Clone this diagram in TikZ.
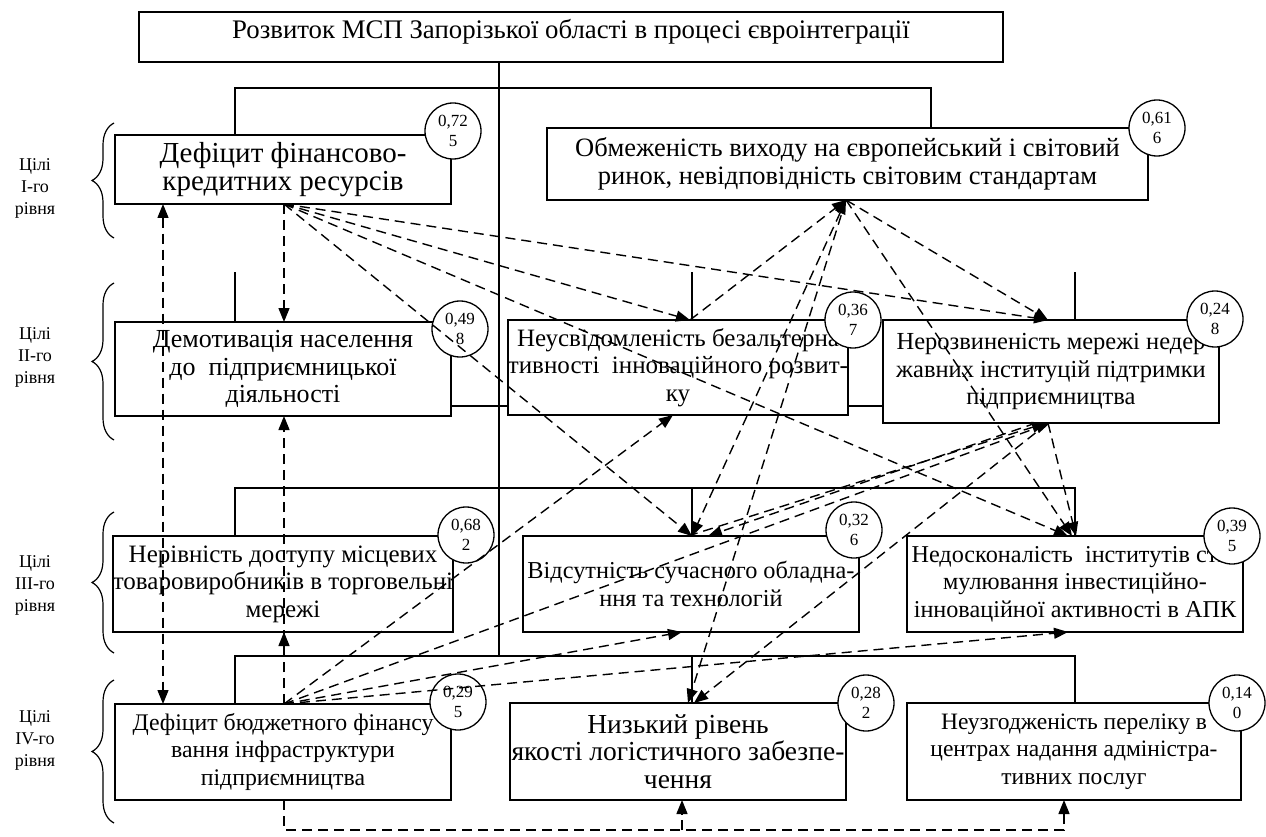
\documentclass[tikz,border=0pt]{standalone}
\usepackage{fontspec}
\setmainfont{Liberation Serif}
\usetikzlibrary{arrows.meta,decorations.pathreplacing,calc}
\newcommand{\fs}[1]{\fontsize{#1}{27.5}\selectfont}
\begin{document}
\begin{tikzpicture}[x=1pt,y=-1pt,
  box/.style={draw, line width=1.3pt, fill=white, align=center, inner sep=0pt, outer sep=0pt, font=\fs{25}},
  frame/.style={draw, line width=1.3pt, fill=white, inner sep=0pt, outer sep=0pt},
  val/.style={draw, circle, line width=1.3pt, fill=white, minimum size=56pt, inner sep=0pt, outer sep=0pt, align=center, font=\fontsize{17}{20}\selectfont},
  lvl/.style={align=center, font=\fontsize{18}{22}\selectfont},
  bus/.style={line width=1.2pt},
  dep/.style={line width=1.4pt, dash pattern=on 10pt off 6pt, -{Triangle[length=14pt,width=11pt]}},
  depb/.style={line width=1.4pt, dash pattern=on 10pt off 6pt, {Triangle[length=14pt,width=11pt]}-{Triangle[length=14pt,width=11pt]}},
  lbrace/.style={decorate, decoration={brace, amplitude=22pt}, line width=1.2pt}]
\useasboundingbox (0,0) rectangle (1266,837);

% helper x positions
\coordinate (xL) at (163,0);
\coordinate (xA) at (284,0);
\coordinate (xC) at (499,0);
\coordinate (xM) at (692,0);
\coordinate (xP) at (846,0);
\coordinate (xR) at (1075,0);
\coordinate (yc) at (0,406);

% title
\node[frame, minimum width=864pt, minimum height=50pt] (title) at (571,37) {};
\node[font=\fs{26.8}, inner sep=0pt] (titletext) at (571,32) {Розвиток МСП Запорізької області в процесі євроінтеграції};

% level I
\node[box, font=\fs{29}, minimum width=336pt, minimum height=69pt] (b1) at (283,169.5) {Дефіцит фінансово-\\кредитних ресурсів};
\node[box, font=\fs{26.5}, minimum width=601pt, minimum height=72pt] (b2) at (847.5,164) {Обмеженість виходу на європейський і світовий\\ринок, невідповідність світовим стандартам};
% level II
\node[box, font=\fs{26}, minimum width=336pt, minimum height=94pt] (b3) at (283,369) {Демотивація населення\\до\ \ підприємницької\\діяльності};
\node[box, font=\fs{25}, minimum width=336pt, minimum height=95pt] (b4) at (678,367.5) {Неусвідомленість безальтерна\\тивності\ \ інноваційного розвит-\\ку};
\node[box, font=\fs{24.5}, minimum width=336pt, minimum height=103pt] (b5) at (1051,371.5) {Нерозвиненість мережі недер\\жавних інституцій підтримки\\підприємництва};
% level III
\node[box, font=\fs{25}, minimum width=336pt, minimum height=96pt] (b6) at (283,584) {Нерівність доступу місцевих\\товаровиробників в торговельні\\мережі};
\node[box, font=\fs{24.3}, minimum width=336pt, minimum height=96pt] (b7) at (691,584) {Відсутність сучасного обладна-\\ння та технологій};
\node[box, font=\fs{24.2}, minimum width=336pt, minimum height=96pt] (b8) at (1075,584) {Недосконалість\ \ інститутів сти-\\мулювання інвестиційно-\\інноваційної активності в АПК};
% level IV
\node[box, font=\fs{23.8}, minimum width=336pt, minimum height=96pt] (b9) at (283,752) {Дефіцит бюджетного фінансу\\вання інфраструктури\\підприємництва};
\node[box, font=\fs{27.5}, minimum width=336pt, minimum height=97pt] (b10) at (678,751.5) {Низький рівень\\якості логістичного забезпе-\\чення};
\node[box, font=\fs{23.5}, minimum width=334pt, minimum height=97pt] (b11) at (1074,751.5) {Неузгодженість переліку в\\центрах надання адміністра-\\тивних послуг};

% value circles
\node[val] (c1) at (453,131) {0,72\\5};
\node[val] (c2) at (1157,128) {0,61\\6};
\node[val] (c3) at (460,329) {0,49\\8};
\node[val] (c4) at (853,320) {0,36\\7};
\node[val] (c5) at (1215,319) {0,24\\8};
\node[val] (c6) at (466,535) {0,68\\2};
\node[val] (c7) at (854,530) {0,32\\6};
\node[val] (c8) at (1232,536) {0,39\\5};
\node[val] (c9) at (458,702) {0,29\\5};
\node[val] (c10) at (866,703) {0,28\\2};
\node[val] (c11) at (1237,703) {0,14\\0};

% level labels and braces
\node[lvl] (l1) at (35,188) {Цілі\\I-го\\рівня};
\node[lvl] (l2) at (35,357) {Цілі\\II-го\\рівня};
\node[lvl] (l3) at (35,585) {Цілі\\III-го\\рівня};
\node[lvl] (l4) at (35,740) {Цілі\\IV-го\\рівня};
\draw[lbrace] (114,238) -- (114,123);
\draw[lbrace] (114,440) -- (114,283);
\draw[lbrace] (114,653) -- (114,512);
\draw[lbrace] (114,823) -- (114,680);

% structure lines
\coordinate (busI) at (0,88);
\coordinate (stubII) at (0,272);
\coordinate (busIII) at (0,488);
\coordinate (busIV) at (0,656);
\draw[bus] (title.south -| xC) -- (busIV -| xC);
\draw[bus] (b1.north -| 235,0) -- (busI -| 235,0) -- (busI -| 931,0) -- (b2.north -| 931,0);
\draw[bus] (stubII -| 235,0) -- (b3.north -| 235,0);
\draw[bus] (stubII -| xM) -- (b4.north -| xM);
\draw[bus] (stubII -| xR) -- (b5.north -| xR);
\draw[bus] (b3.east |- yc) -- (b4.west |- yc);
\draw[bus] (b4.east |- yc) -- (b5.west |- yc);
\draw[bus] (b6.north -| 235,0) -- (busIII -| 235,0) -- (busIII -| xR) -- (b8.north -| xR);
\draw[bus] (busIII -| xM) -- (b7.north -| xM);
\draw[bus] (b9.north -| 235,0) -- (busIV -| 235,0) -- (busIV -| xR) -- (b11.north -| xR);
\draw[bus] (busIV -| xM) -- (b10.north -| xM);

% dependency arrows
\coordinate (p1) at (b1.south -| xA);
\coordinate (p2) at (b2.south -| xP);
\coordinate (p9) at (b9.north -| xA);
\draw[dep] (p1) -- (b3.north -| xA);
\draw[dep] (p1) -- (b4.north -| 690,0);
\draw[dep] (p1) -- (b5.north -| 1048,0);
\draw[dep] (p1) -- (b7.north -| xM);
\draw[dep] (p1) -- (b8.north -| 1068,0);
\draw[dep] (b4.north -| 690,0) -- (p2);
\draw[dep] (p2) -- (b5.north -| 1048,0);
\draw[depb] (p2) -- (b7.north -| xM);
\draw[dep] (p2) -- (b10.north -| 688,0);
\draw[dep] (p2) -- (b8.north -| 1072,0);
\draw[dep] (b5.south -| 1048,0) -- (b8.north -| 1076,0);
\draw[dep] (b5.south -| 1048,0) -- (b10.north -| 694,0);
\draw[dep] (b7.north -| 688,0) -- (b5.south -| 1046,0);
\draw[dep] (b5.south -| 1036,0) -- (b7.north -| 708,0);
\draw[dep] (p9) -- (b6.south -| xA);
\draw[dep] (p9) -- (b3.south -| xA);
\draw[dep] (p9) -- (b4.south -| 673,0);
\draw[dep] (p9) -- (b5.south -| 1050,0);
\draw[dep] (p9) -- (b7.south -| 682,0);
\draw[dep] (p9) -- (b8.south -| 1068,0);
\draw[depb] (b1.south -| xL) -- (b9.north -| xL);
\coordinate (ybot) at (0,830);
\draw[dep] (b9.south -| xA) -- (ybot -| xA) -- (ybot -| 1064,0) -- (b11.south -| 1064,0);
\draw[dep] (ybot -| 682,0) -- (b10.south -| 682,0);
\end{tikzpicture}
\end{document}
